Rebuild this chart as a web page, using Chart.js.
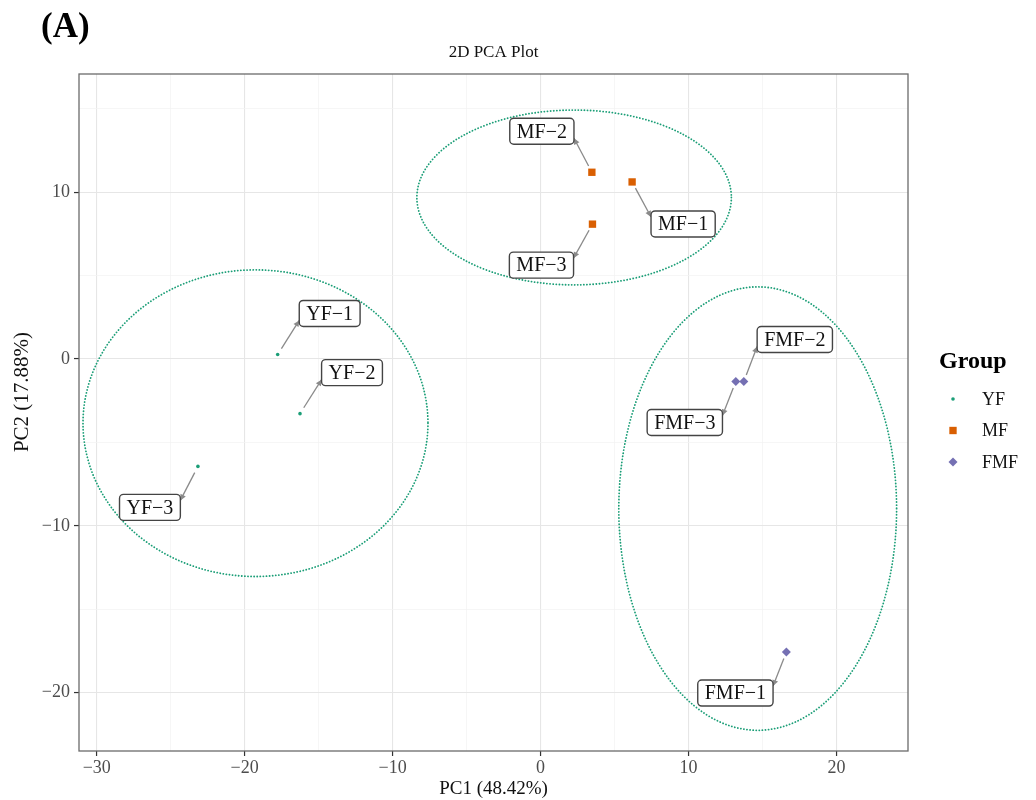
<!DOCTYPE html>
<html>
<head>
<meta charset="utf-8">
<title>2D PCA Plot</title>
<script src="https://cdn.jsdelivr.net/npm/chart.js@4.4.0/dist/chart.umd.min.js"></script>
<style>
  html, body { margin: 0; padding: 0; background: #fff; }
  #wrap { position: relative; width: 1036px; height: 800px; }
  #panelTag { position: absolute; left: 41px; top: 6px; font: bold 35px 'Liberation Serif', 'Times New Roman', serif; color: #000; }
</style>
</head>
<body>
<div id="wrap">
  <canvas id="pcaChart" width="1036" height="800"></canvas>
  <div id="panelTag">(A)</div>
</div>
<script>
// sample scores (PC1 / PC2)
const yfNames = ['YF−1', 'YF−2', 'YF−3'];
const yfPC1 = [-17.77, -16.26, -23.16];
const yfPC2 = [0.27, -3.28, -6.44];

const mfNames = ['MF−1', 'MF−2', 'MF−3'];
const mfPC1 = [6.19, 3.47, 3.51];
const mfPC2 = [10.61, 11.19, 8.08];

const fmfNames = ['FMF−1', 'FMF−2', 'FMF−3'];
const fmfPC1 = [16.62, 13.74, 13.20];
const fmfPC2 = [-17.57, -1.35, -1.35];

// group confidence ellipses (YF, MF, FMF)
const ellipseCenterX = [-19.27, 2.27, 14.68];
const ellipseCenterY = [-3.85, 9.68, -8.97];
const ellipseRadiusX = [11.66, 10.63, 9.39];
const ellipseRadiusY = [9.19, 5.24, 13.29];

const groupNames = ['YF', 'MF', 'FMF'];
const xGrid = [-30, -25, -20, -15, -10, -5, 0, 5, 10, 15, 20];
const yGrid = [-20, -15, -10, -5, 0, 5, 10, 15];
const xTickLabels = [-30, -20, -10, 0, 10, 20];
const yTickLabels = [-20, -10, 0, 10];

const FONT = "'Liberation Serif', 'Times New Roman', serif";
const colors = ['#1B9E77', '#D95F02', '#7570B3'];
const styles = ['circle', 'rect', 'rectRot'];
const radii = [1.8, 5.2, 4.5];

// where each label box sits relative to its point (px)
const labelShift = {
    'YF−1': [52, -41], 'YF−2': [52, -41], 'YF−3': [-48, 41],
    'MF−1': [51, 42], 'MF−2': [-50, -41], 'MF−3': [-51, 41],
    'FMF−1': [-51, 41], 'FMF−2': [51, -42], 'FMF−3': [-51, 41]
};

function toPoints(xs, ys) {
    return xs.map((x, i) => ({ x: x, y: ys[i] }));
}

function minusSign(v) {
    return v < 0 ? '−' + Math.abs(v) : String(v);
}

// dotted ellipses behind the points
const ellipsePlugin = {
    id: 'ellipses',
    beforeDatasetsDraw(chart) {
        const c = chart.ctx;
        const xs = chart.scales.x, ys = chart.scales.y;
        const a = chart.chartArea;
        c.save();
        c.beginPath();
        c.rect(a.left, a.top, a.right - a.left, a.bottom - a.top);
        c.clip();
        c.strokeStyle = '#1B9E77';
        c.lineWidth = 1.8;
        c.lineCap = 'round';
        c.setLineDash([0.1, 3]);
        ellipseCenterX.forEach((cx, i) => {
            const px = xs.getPixelForValue(cx);
            const py = ys.getPixelForValue(ellipseCenterY[i]);
            const rx = Math.abs(xs.getPixelForValue(cx + ellipseRadiusX[i]) - px);
            const ry = Math.abs(ys.getPixelForValue(ellipseCenterY[i] + ellipseRadiusY[i]) - py);
            c.beginPath();
            c.ellipse(px, py, rx, ry, 0, 0, Math.PI * 2);
            c.stroke();
        });
        c.restore();
    }
};

// boxed labels with arrows, like ggrepel
const labelPlugin = {
    id: 'repelLabels',
    afterDatasetsDraw(chart) {
        const c = chart.ctx;
        c.save();
        c.font = '20px ' + FONT;
        c.textAlign = 'center';
        c.textBaseline = 'middle';
        chart.data.datasets.forEach((ds, di) => {
            const meta = chart.getDatasetMeta(di);
            meta.data.forEach((el, i) => {
                const name = ds.names[i];
                const shift = labelShift[name];
                const px = el.x, py = el.y;
                const bx = px + shift[0], by = py + shift[1];
                const hw = c.measureText(name).width / 2 + 7;
                const hh = 13;
                // arrow ends on the near side edge, a little in from the corner
                const ex = px < bx ? bx - hw : bx + hw;
                const ey = py < by ? by - hh + 6 : by + hh - 6;
                const dx = ex - px, dy = ey - py;
                const len = Math.hypot(dx, dy);
                const ux = dx / len, uy = dy / len;
                const sx = px + ux * 7, sy = py + uy * 7;
                c.strokeStyle = '#8a8a8a';
                c.fillStyle = '#8a8a8a';
                c.lineWidth = 1.3;
                c.beginPath();
                c.moveTo(sx, sy);
                c.lineTo(ex, ey);
                c.stroke();
                c.beginPath();
                c.moveTo(ex, ey);
                c.lineTo(ex - ux * 6 - uy * 3, ey - uy * 6 + ux * 3);
                c.lineTo(ex - ux * 6 + uy * 3, ey - uy * 6 - ux * 3);
                c.closePath();
                c.fill();
                // box
                c.beginPath();
                c.roundRect(bx - hw, by - hh, hw * 2, hh * 2, 4);
                c.fillStyle = '#ffffff';
                c.fill();
                c.strokeStyle = '#444';
                c.lineWidth = 1.4;
                c.stroke();
                c.fillStyle = '#111';
                c.fillText(name, bx, by + 1);
            });
        });
        c.restore();
    }
};

// panel frame, titles and the Group legend
const decorPlugin = {
    id: 'decor',
    afterDraw(chart) {
        const c = chart.ctx;
        const a = chart.chartArea;
        c.save();
        c.strokeStyle = '#6b6b6b';
        c.lineWidth = 1.3;
        c.strokeRect(a.left, a.top, a.right - a.left, a.bottom - a.top);

        c.fillStyle = '#111';
        c.font = '17px ' + FONT;
        c.textAlign = 'center';
        c.textBaseline = 'middle';
        c.fillText('2D PCA Plot', (a.left + a.right) / 2, 53);

        // y axis title
        c.save();
        c.translate(22, 392);
        c.rotate(-Math.PI / 2);
        c.font = '21px ' + FONT;
        c.fillText('PC2 (17.88%)', 0, 0);
        c.restore();

        c.textAlign = 'left';
        c.font = 'bold 24px ' + FONT;
        c.fillStyle = '#000';
        c.fillText('Group', 939, 362);
        c.font = '18px ' + FONT;
        groupNames.forEach((g, i) => {
            const y = 399 + i * 31.5;
            const x = 953;
            c.fillStyle = colors[i];
            c.beginPath();
            if (i === 0) {
                c.arc(x, y, radii[0], 0, Math.PI * 2);
            } else if (i === 1) {
                const s = radii[1] * Math.SQRT1_2;
                c.rect(x - s, y - s, s * 2, s * 2);
            } else {
                const r = radii[2];
                c.moveTo(x, y - r); c.lineTo(x + r, y); c.lineTo(x, y + r); c.lineTo(x - r, y);
                c.closePath();
            }
            c.fill();
            c.fillStyle = '#111';
            c.fillText(g, 982, y + 1);
        });
        c.restore();
    }
};

function gridColor(ctx) {
    return ctx.tick && ctx.tick.value % 10 === 0 ? '#e6e6e6' : '#f2f2f2';
}
function gridWidth(ctx) {
    return ctx.tick && ctx.tick.value % 10 === 0 ? 1.1 : 0.7;
}
function tickMarkColor(ctx) {
    return ctx.tick && ctx.tick.value % 10 === 0 ? '#333' : 'rgba(0,0,0,0)';
}

const datasetPoints = [
    toPoints(yfPC1, yfPC2),
    toPoints(mfPC1, mfPC2),
    toPoints(fmfPC1, fmfPC2)
];
const datasetNames = [yfNames, mfNames, fmfNames];

const ctx = document.getElementById('pcaChart').getContext('2d');
const pcaChart = new Chart(ctx, {
    type: 'scatter',
    data: {
        datasets: groupNames.map((g, i) => ({
            label: g,
            names: datasetNames[i],
            data: datasetPoints[i],
            pointStyle: styles[i],
            pointRadius: radii[i],
            pointHoverRadius: radii[i],
            backgroundColor: colors[i],
            borderColor: colors[i],
            borderWidth: 0
        }))
    },
    options: {
        responsive: false,
        animation: false,
        layout: { padding: { top: 74, right: 128, left: 0, bottom: 0 } },
        plugins: {
            legend: { display: false },
            title: { display: false },
            tooltip: { enabled: false }
        },
        scales: {
            x: {
                type: 'linear',
                min: -31.2,
                max: 24.84,
                afterBuildTicks: (scale) => { scale.ticks = xGrid.map(v => ({ value: v })); },
                afterFit: (scale) => { scale.height = 49; },
                border: { display: false },
                grid: { color: gridColor, lineWidth: gridWidth, tickColor: tickMarkColor, tickLength: 5, tickWidth: 1.2 },
                ticks: {
                    color: '#4d4d4d',
                    font: { family: FONT, size: 18 },
                    padding: 1,
                    maxRotation: 0,
                    autoSkip: false,
                    callback: (v) => xTickLabels.includes(v) ? minusSign(v) : ''
                },
                title: {
                    display: true,
                    text: 'PC1 (48.42%)',
                    color: '#111',
                    font: { family: FONT, size: 19 },
                    padding: { top: 0, bottom: 0 }
                }
            },
            y: {
                type: 'linear',
                min: -23.5,
                max: 17.08,
                afterBuildTicks: (scale) => { scale.ticks = yGrid.map(v => ({ value: v })); },
                afterFit: (scale) => { scale.width = 79; },
                border: { display: false },
                grid: { color: gridColor, lineWidth: gridWidth, tickColor: tickMarkColor, tickLength: 5, tickWidth: 1.2 },
                ticks: {
                    color: '#4d4d4d',
                    font: { family: FONT, size: 18 },
                    padding: 4,
                    autoSkip: false,
                    callback: (v) => yTickLabels.includes(v) ? minusSign(v) : ''
                }
            }
        }
    },
    plugins: [ellipsePlugin, labelPlugin, decorPlugin]
});
</script>
</body>
</html>
